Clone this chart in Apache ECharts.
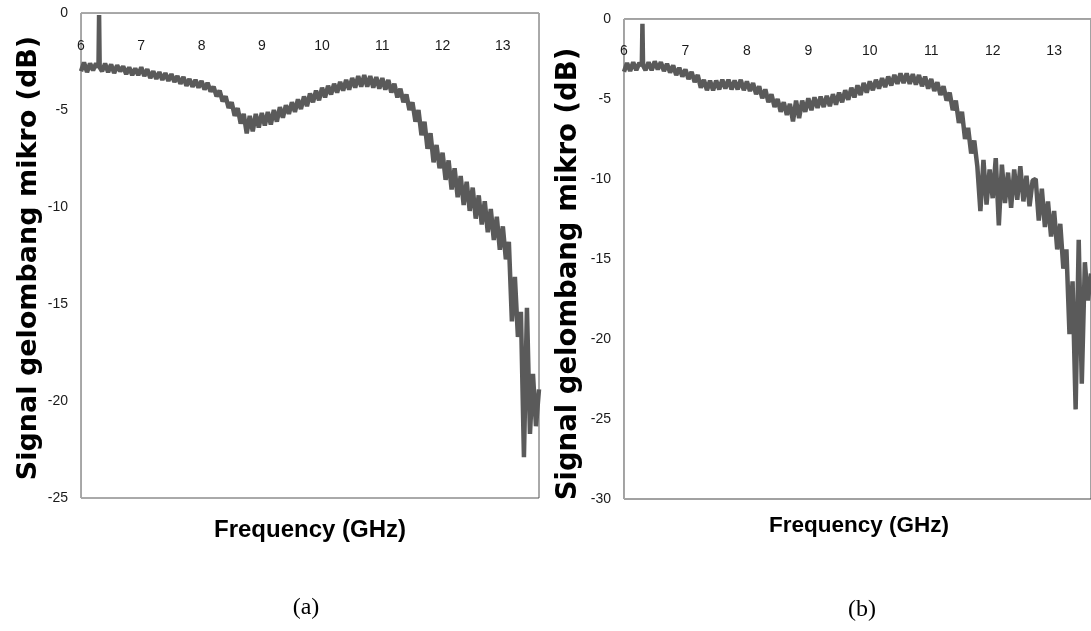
<!DOCTYPE html>
<html>
<head>
<meta charset="utf-8">
<script src="https://cdn.jsdelivr.net/npm/echarts@6/dist/echarts.min.js"></script>
<style>
html,body{margin:0;padding:0;background:#fff;}
#chart{width:1091px;height:631px;}
</style>
</head>
<body>
<div id="chart"></div>
<script>
// Frequency grid (GHz), shared by both panels
const freqGHz = [
6.00,6.05,6.10,6.15,6.20,6.25,6.29,6.30,6.31,6.35,6.40,6.45,6.50,6.55,6.60,6.65,6.70,6.75,6.80,6.85,6.90,6.95,
7.00,7.05,7.10,7.15,7.20,7.25,7.30,7.35,7.40,7.45,7.50,7.55,7.60,7.65,7.70,7.75,7.80,7.85,7.90,7.95,
8.00,8.05,8.10,8.15,8.20,8.25,8.30,8.35,8.40,8.45,8.50,8.55,8.60,8.65,8.70,8.75,8.80,8.85,8.90,8.95,
9.00,9.05,9.10,9.15,9.20,9.25,9.30,9.35,9.40,9.45,9.50,9.55,9.60,9.65,9.70,9.75,9.80,9.85,9.90,9.95,
10.00,10.05,10.10,10.15,10.20,10.25,10.30,10.35,10.40,10.45,10.50,10.55,10.60,10.65,10.70,10.75,10.80,10.85,10.90,10.95,
11.00,11.05,11.10,11.15,11.20,11.25,11.30,11.35,11.40,11.45,11.50,11.55,11.60,11.65,11.70,11.75,11.80,11.85,11.90,11.95,
12.00,12.05,12.10,12.15,12.20,12.25,12.30,12.35,12.40,12.45,12.50,12.55,12.60,12.65,12.70,12.75,12.80,12.85,12.90,12.95,
13.00,13.05,13.10,13.15,13.20,13.25,13.30,13.35,13.40,13.45,13.50,13.55,13.60
];

// Panel (a) signal, dB
const signalA = [
-3.0,-2.55,-3.05,-2.6,-2.95,-2.6,-2.8,-0.1,-2.8,-3.0,-2.6,-3.05,-2.65,-3.1,-2.7,-3.0,-2.75,-3.15,-2.8,-3.2,-2.85,-3.2,
-2.8,-3.25,-2.9,-3.35,-3.0,-3.4,-3.05,-3.45,-3.1,-3.5,-3.15,-3.55,-3.25,-3.65,-3.3,-3.75,-3.4,-3.8,-3.45,-3.85,
-3.5,-3.95,-3.6,-4.05,-3.8,-4.3,-4.0,-4.55,-4.3,-4.9,-4.6,-5.3,-4.9,-5.7,-5.2,-6.2,-5.3,-6.1,-5.2,-5.9,
-5.15,-5.8,-5.1,-5.75,-5.0,-5.6,-4.85,-5.4,-4.75,-5.2,-4.6,-5.1,-4.45,-4.95,-4.3,-4.8,-4.15,-4.6,-4.0,-4.5,
-3.85,-4.35,-3.75,-4.2,-3.65,-4.1,-3.55,-4.0,-3.45,-3.95,-3.35,-3.85,-3.25,-3.8,-3.2,-3.8,-3.25,-3.85,-3.3,-3.9,
-3.35,-3.95,-3.45,-4.1,-3.65,-4.35,-3.9,-4.6,-4.2,-5.0,-4.6,-5.6,-5.0,-6.3,-5.6,-7.0,-6.2,-7.7,-6.8,-8.0,
-7.2,-8.6,-7.6,-9.1,-8.0,-9.5,-8.4,-9.9,-8.7,-10.2,-9.0,-10.6,-9.4,-10.9,-9.7,-11.3,-10.1,-11.7,-10.5,-12.2,
-11.0,-12.7,-11.8,-15.9,-13.6,-16.7,-15.4,-22.9,-15.2,-21.7,-18.6,-21.3,-19.4
];

// Panel (b) signal, dB
const signalB = [
-3.3,-2.75,-3.25,-2.7,-3.2,-2.75,-2.9,-0.3,-2.9,-3.2,-2.7,-3.2,-2.65,-3.15,-2.7,-3.25,-2.8,-3.35,-2.9,-3.5,-3.05,-3.6,
-3.15,-3.75,-3.3,-3.95,-3.5,-4.3,-3.8,-4.45,-3.85,-4.45,-3.85,-4.4,-3.8,-4.35,-3.8,-4.4,-3.85,-4.4,-3.8,-4.45,
-3.9,-4.5,-4.0,-4.7,-4.2,-4.95,-4.4,-5.2,-4.7,-5.5,-5.0,-5.8,-5.2,-6.0,-5.3,-6.4,-5.1,-6.2,-5.1,-5.8,
-4.95,-5.7,-4.9,-5.55,-4.85,-5.5,-4.8,-5.45,-4.7,-5.35,-4.6,-5.2,-4.45,-5.05,-4.3,-4.9,-4.15,-4.75,-4.0,-4.6,
-3.9,-4.45,-3.8,-4.35,-3.7,-4.25,-3.6,-4.15,-3.5,-4.05,-3.4,-4.0,-3.4,-4.05,-3.45,-4.1,-3.5,-4.2,-3.6,-4.35,
-3.75,-4.5,-3.95,-4.75,-4.2,-5.1,-4.6,-5.7,-5.1,-6.5,-5.8,-7.5,-6.8,-8.4,-7.6,-9.2,-12.0,-8.8,-11.6,-9.4,
-11.2,-8.7,-12.9,-9.1,-11.5,-9.6,-11.8,-9.4,-11.3,-9.2,-11.4,-9.8,-11.7,-10.1,-10.0,-12.6,-10.6,-13.0,-11.4,-13.6,
-12.0,-14.4,-12.8,-15.6,-14.4,-19.7,-16.4,-24.4,-13.8,-22.8,-15.2,-17.6,-15.9
];

const xTickLabels = ['6','7','8','9','10','11','12','13'];
const yAxisTitle = 'Signal gelombang mikro (dB)';
const xAxisTitle = 'Frequency (GHz)';
const panelLabels = ['(a)', '(b)'];

function pairs(xs, ys) { return xs.map((x, i) => [x, ys[i]]); }

const chart = echarts.init(document.getElementById('chart'), null, {renderer: 'canvas'});

const labelFont = '"Liberation Sans Narrow", "Liberation Sans", sans-serif';
const titleFont = '"DejaVu Sans", Verdana, sans-serif';

function xAxisCfg(gridIndex, margin) {
  return {
    gridIndex: gridIndex, type: 'value', position: 'top', min: 6, max: 13.6, interval: 1,
    axisLine: {show: true, onZero: false, lineStyle: {color: '#a6a6a6', width: 1}},
    axisTick: {show: false},
    splitLine: {show: false},
    axisLabel: {
      inside: true, margin: margin, color: '#1a1a1a', fontSize: 14, fontFamily: labelFont,
      showMaxLabel: false,
      formatter: v => (Number.isInteger(v) && xTickLabels.includes(String(v))) ? String(v) : ''
    }
  };
}
function yAxisCfg(gridIndex, min) {
  return {
    gridIndex: gridIndex, type: 'value', min: min, max: 0, interval: 5,
    axisLine: {show: true, onZero: false, lineStyle: {color: '#a6a6a6', width: 1}},
    axisTick: {show: false},
    splitLine: {show: false},
    axisLabel: {margin: 13, color: '#1a1a1a', fontSize: 14, fontFamily: labelFont}
  };
}
function yTitle(x, y, size) {
  return {type: 'text', x: x, y: y, rotation: Math.PI / 2,
    style: {text: yAxisTitle, x: 0, y: 0, textAlign: 'center', textVerticalAlign: 'middle',
      font: 'bold ' + size + 'px ' + titleFont, fill: '#000'}};
}

const option = {
  backgroundColor: '#fff',
  animation: false,
  grid: [
    {left: 81, top: 13, width: 458, height: 485, show: true, borderColor: '#555', borderWidth: 1, backgroundColor: 'transparent'},
    {left: 624, top: 19, width: 470, height: 480, show: true, borderColor: '#444', borderWidth: 1, backgroundColor: 'transparent'}
  ],
  xAxis: [xAxisCfg(0, 26), xAxisCfg(1, 25)],
  yAxis: [yAxisCfg(0, -25), yAxisCfg(1, -30)],
  series: [
    {type: 'line', xAxisIndex: 0, yAxisIndex: 0, data: pairs(freqGHz, signalA), showSymbol: false,
     lineStyle: {color: '#5a5a5a', width: 4.5}, itemStyle: {color: '#5a5a5a'}},
    {type: 'line', xAxisIndex: 1, yAxisIndex: 1, data: pairs(freqGHz, signalB), showSymbol: false,
     lineStyle: {color: '#5a5a5a', width: 4.5}, itemStyle: {color: '#5a5a5a'}}
  ],
  graphic: [
    yTitle(29, 258, 27),
    yTitle(569, 274, 27.5),
    {type: 'text', style: {text: xAxisTitle, x: 310, y: 530, textAlign: 'center', textVerticalAlign: 'middle',
      font: 'bold 24px "Liberation Sans Narrow", "Liberation Sans", sans-serif', fill: '#000'}},
    {type: 'text', style: {text: xAxisTitle, x: 859, y: 526, textAlign: 'center', textVerticalAlign: 'middle',
      font: 'bold 22.5px "Liberation Sans Narrow", "Liberation Sans", sans-serif', fill: '#000'}},
    {type: 'text', style: {text: panelLabels[0], x: 306, y: 608, textAlign: 'center', textVerticalAlign: 'middle',
      font: '24px "Liberation Serif", "Times New Roman", serif', fill: '#000'}},
    {type: 'text', style: {text: panelLabels[1], x: 862, y: 610, textAlign: 'center', textVerticalAlign: 'middle',
      font: '24px "Liberation Serif", "Times New Roman", serif', fill: '#000'}}
  ]
};
chart.setOption(option);
</script>
</body>
</html>
